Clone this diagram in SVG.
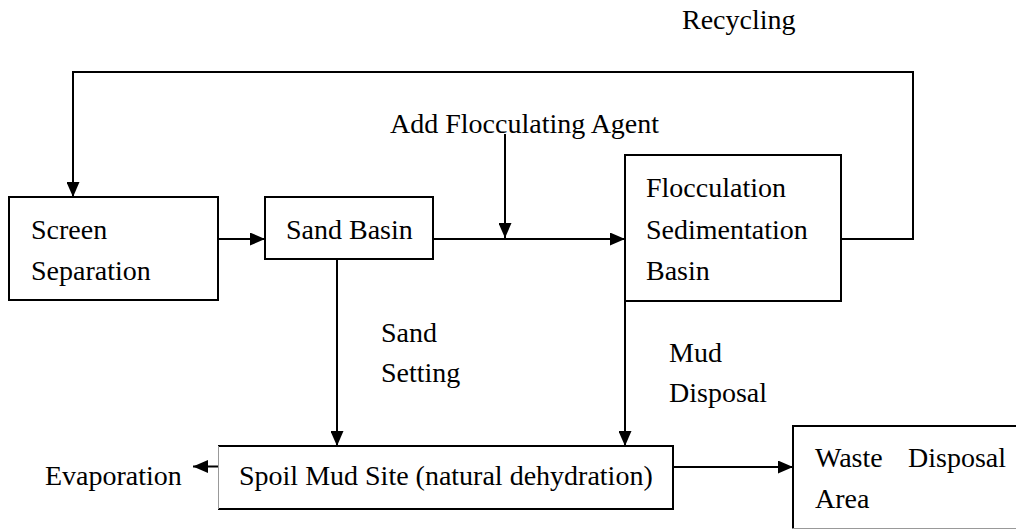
<svg xmlns="http://www.w3.org/2000/svg" width="1016" height="530" viewBox="0 0 1016 530">
<defs>
<style>
text{font-family:"Liberation Serif","Times New Roman",serif;font-size:28px;fill:#000}
.box{fill:#fff;stroke:#000;stroke-width:2}
.faint{fill:none;stroke:#999;stroke-width:1}
.edge{fill:none;stroke:#000;stroke-width:2}
.conn{fill:none;stroke:#000;stroke-width:2;marker-end:url(#arr)}
</style>
<marker id="arr" viewBox="0 0 15 13" refX="15" refY="6.5" markerWidth="15" markerHeight="13" markerUnits="userSpaceOnUse" orient="auto">
<path d="M0,0 L15,6.5 L0,13 z" fill="#000"/>
</marker>
</defs>
<rect width="1016" height="530" fill="#fff"/>
<g id="connectors">
<path class="conn" d="M841,239 H913 V72 H73 V197"/>
<path class="conn" d="M218,239 H265"/>
<path class="conn" d="M433,239 H625"/>
<path class="conn" d="M505,134 V238"/>
<path class="conn" d="M337,259 V446"/>
<path class="conn" d="M625,301 V446"/>
<path class="conn" d="M673,467 H793"/>
<path class="conn" d="M218,466.5 H193"/>
</g>
<g id="recycling-label"><text x="682" y="29">Recycling</text></g>
<g id="agent-label"><text x="390" y="133">Add Flocculating Agent</text></g>
<g id="screen-separation">
<rect class="box" x="9" y="197" width="209" height="103"/>
<text x="31" y="239">Screen</text>
<text x="31" y="280">Separation</text>
</g>
<g id="sand-basin">
<rect class="box" x="265" y="197" width="168" height="62"/>
<text x="286" y="239">Sand Basin</text>
</g>
<g id="flocculation-basin">
<rect class="box" x="625" y="155" width="216" height="146"/>
<text x="646" y="197">Flocculation</text>
<text x="646" y="239">Sedimentation</text>
<text x="646" y="280">Basin</text>
</g>
<g id="sand-setting-label">
<text x="381" y="342">Sand</text>
<text x="381" y="382">Setting</text>
</g>
<g id="mud-disposal-label">
<text x="669" y="362">Mud</text>
<text x="669" y="402">Disposal</text>
</g>
<g id="spoil-mud-site">
<rect x="218" y="446" width="455" height="63" fill="#fff"/>
<path class="edge" d="M218,446 H673 V509 H218"/>
<path class="faint" d="M218.5,446 V509"/>
<text x="239" y="485">Spoil Mud Site (natural dehydration)</text>
</g>
<g id="evaporation"><text x="45" y="485">Evaporation</text></g>
<g id="waste-disposal-area">
<rect x="793" y="426" width="230" height="103" fill="#fff"/>
<path class="edge" d="M1020,426 H793 V528.5"/>
<path class="faint" d="M793,528.5 H1020"/>
<text x="815" y="467">Waste</text>
<text x="908" y="467">Disposal</text>
<text x="815" y="508">Area</text>
</g>
</svg>
